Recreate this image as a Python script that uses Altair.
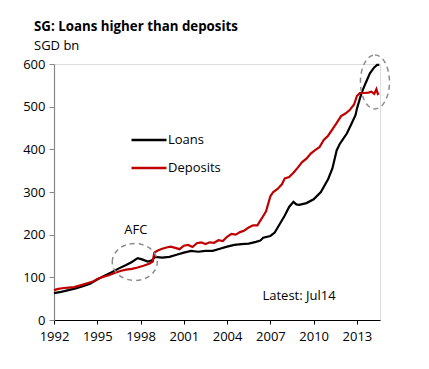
import altair as alt
import pandas as pd

loan_years = [1992.0, 1992.5, 1993.0, 1993.5, 1994.0, 1994.5, 1995.0, 1995.5, 1996.0, 1996.5,
              1997.0, 1997.4, 1997.8, 1998.1, 1998.5, 1998.8, 1999.0, 1999.5, 2000.0, 2000.5,
              2001.0, 2001.5, 2002.0, 2002.5, 2003.0, 2003.5, 2004.0, 2004.5, 2005.0, 2005.5,
              2006.0, 2006.3, 2006.5, 2007.0, 2007.3, 2007.6, 2008.0, 2008.3, 2008.6, 2008.8,
              2009.0, 2009.5, 2010.0, 2010.5, 2011.0, 2011.3, 2011.6, 2011.8, 2012.0, 2012.3,
              2012.6, 2012.9, 2013.0, 2013.3, 2013.6, 2013.9, 2014.2, 2014.4, 2014.55]
loans = [63, 66, 70, 74, 79, 85, 95, 104, 112, 121,
         129, 136, 145, 142, 137, 140, 148, 146, 148, 153,
         158, 162, 160, 162, 162, 167, 172, 176, 178, 179,
         183, 186, 193, 197, 205, 222, 245, 265, 277, 271,
         270, 274, 283, 300, 330, 355, 398, 412, 422, 437,
         458, 480, 495, 530, 555, 578, 592, 598, 598]

dep_years = [1992.0, 1992.3, 1992.7, 1993.0, 1993.4, 1993.7, 1994.0, 1994.3, 1994.7, 1995.0,
             1995.4, 1995.8, 1996.2, 1996.6, 1997.0, 1997.4, 1997.8, 1998.2, 1998.6, 1998.85,
             1998.95, 1999.2, 1999.5, 1999.8, 2000.1, 2000.4, 2000.7, 2001.0, 2001.3, 2001.6,
             2001.9, 2002.2, 2002.5, 2002.8, 2003.1, 2003.4, 2003.7, 2004.0, 2004.3, 2004.6,
             2004.9, 2005.2, 2005.5, 2005.8, 2006.1, 2006.4, 2006.7, 2007.0, 2007.2, 2007.5,
             2007.8, 2008.0, 2008.3, 2008.6, 2008.9, 2009.2, 2009.5, 2009.8, 2010.1, 2010.4,
             2010.7, 2011.0, 2011.3, 2011.6, 2011.9, 2012.2, 2012.5, 2012.8, 2013.0, 2013.2,
             2013.5, 2013.8, 2014.0, 2014.2, 2014.35, 2014.45, 2014.53]
deposits = [70, 73, 75, 76, 77, 80, 83, 86, 90, 96,
            101, 105, 110, 115, 118, 120, 123, 127, 132, 137,
            158, 163, 167, 170, 172, 169, 166, 174, 176, 171,
            180, 182, 178, 182, 181, 187, 185, 195, 202, 200,
            206, 210, 217, 222, 222, 238, 255, 290, 300, 307,
            318, 332, 335, 345, 357, 370, 378, 390, 398, 405,
            422, 432, 447, 462, 478, 484, 492, 505, 525, 532,
            532, 533, 535, 530, 541, 530, 532]

x_ticks = [1992, 1995, 1998, 2001, 2004, 2007, 2010, 2013]
y_ticks = [0, 100, 200, 300, 400, 500, 600]
series_names = ["Loans", "Deposits"]
series_colors = ["#000000", "#C00000"]

FONT = "Open Sans"

df = pd.concat([
    pd.DataFrame({"year": loan_years, "value": loans, "series": "Loans"}),
    pd.DataFrame({"year": dep_years, "value": deposits, "series": "Deposits"}),
])

x_scale = alt.Scale(domain=[1992, 2014.6], nice=False, zero=False)
y_scale = alt.Scale(domain=[0, 600], nice=False)

lines = alt.Chart(df).mark_line(strokeWidth=2.2).encode(
    x=alt.X("year:Q", scale=x_scale,
            axis=alt.Axis(values=x_ticks, format="d", title=None, grid=False,
                          domainColor="#000000", tickColor="#000000", tickSize=4,
                          labelPadding=6, labelFontSize=13, labelColor="#000000",
                          labelFont=FONT, domainWidth=1.2, labelOverlap=False,
                          labelFlush=False, labelBound=False)),
    y=alt.Y("value:Q", scale=y_scale,
            axis=alt.Axis(values=y_ticks, title=None, grid=False,
                          domainColor="#888888", tickColor="#888888", tickSize=5,
                          labelPadding=4, labelFontSize=13, labelColor="#000000",
                          labelFont=FONT, domainWidth=1.2, labelOverlap=False,
                          labelFlush=False)),
    color=alt.Color("series:N",
                    scale=alt.Scale(domain=series_names, range=series_colors),
                    legend=alt.Legend(title=None, orient="none", legendX=76, legendY=57,
                                      symbolType="stroke", symbolSize=1225,
                                      symbolStrokeWidth=2.5, labelFontSize=13,
                                      labelFont=FONT, labelColor="#000000",
                                      rowPadding=2, labelOffset=0)),
    detail="series:N",
)

ellipses = pd.DataFrame({
    "year": [1997.6, 2014.25],
    "value": [136, 558],
    "shape": ["M -1 0 A 1 0.822 0 1 1 1 0 A 1 0.822 0 1 1 -1 0",
              "M 0 -1 A 0.537 1 0 1 1 0 1 A 0.537 1 0 1 1 0 -1"],
    "size": [2025, 2916],
})

ell = alt.Chart(ellipses).mark_point(
    filled=False, stroke="#8c8c8c", strokeWidth=1.5, strokeDash=[5, 4], opacity=1
).encode(
    x=alt.X("year:Q", scale=x_scale),
    y=alt.Y("value:Q", scale=y_scale),
    shape=alt.Shape("shape:N", scale=None),
    size=alt.Size("size:Q", scale=None),
)

notes = pd.DataFrame({
    "year": [1997.68, 2006.45],
    "value": [211, 56],
    "label": ["AFC", "Latest: Jul14"],
})

afc = alt.Chart(notes.iloc[[0]]).mark_text(
    fontSize=13, font=FONT, color="#000000", align="center", baseline="middle"
).encode(x=alt.X("year:Q", scale=x_scale), y=alt.Y("value:Q", scale=y_scale), text="label:N")

latest = alt.Chart(notes.iloc[[1]]).mark_text(
    fontSize=13, font=FONT, color="#000000", align="left", baseline="middle"
).encode(x=alt.X("year:Q", scale=x_scale), y=alt.Y("value:Q", scale=y_scale), text="label:N")

title = alt.Chart(pd.DataFrame({"t": ["SG: Loans higher than deposits"]})).mark_text(
    fontSize=13.3, font=FONT, fontWeight="bold", color="#000000", align="left",
    baseline="alphabetic"
).encode(x=alt.value(-20), y=alt.value(-33), text="t:N")

subtitle = alt.Chart(pd.DataFrame({"t": ["SGD bn"]})).mark_text(
    fontSize=13, font=FONT, color="#000000", align="left", baseline="alphabetic"
).encode(x=alt.value(-20), y=alt.value(-14), text="t:N")

chart = alt.layer(lines, ell, afc, latest, title, subtitle).properties(
    width=326, height=256,
    autosize=alt.AutoSizeParams(type="none"),
    padding={"left": 46, "top": 56, "right": 40, "bottom": 40},
).configure_view(stroke=None).configure(background="white")

chart.save("out.html", embed_options={"renderer": "svg", "actions": False})
